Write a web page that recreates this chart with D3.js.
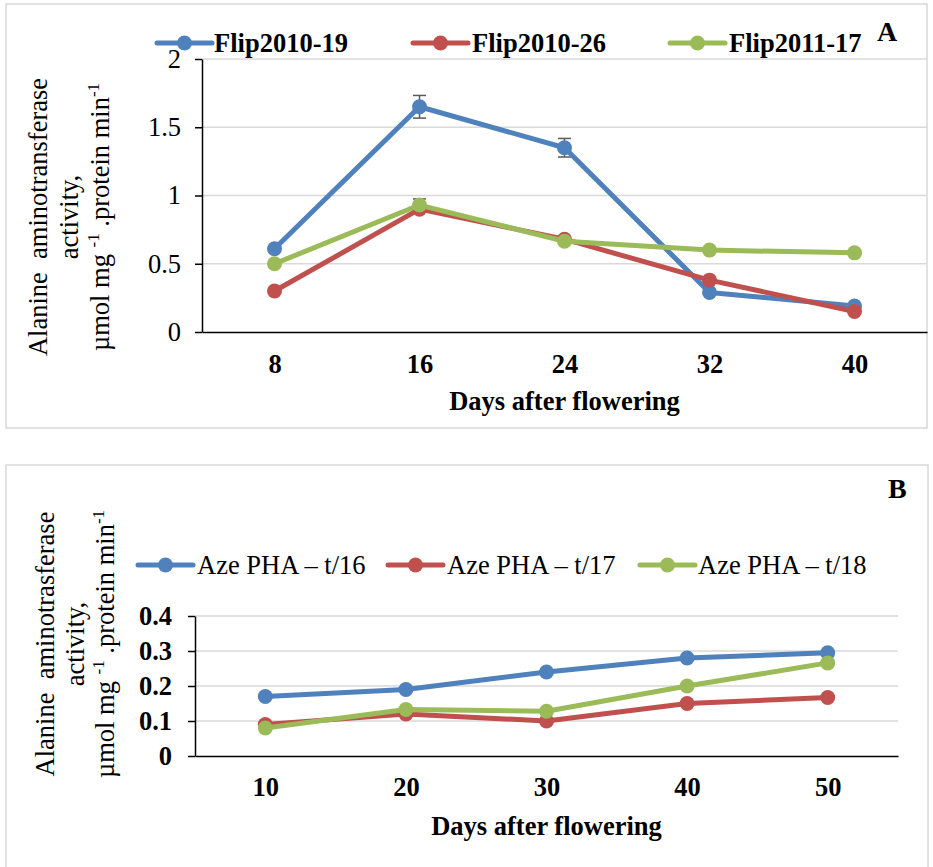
<!DOCTYPE html>
<html>
<head>
<meta charset="utf-8">
<script src="https://cdn.jsdelivr.net/npm/d3@7"></script>
<style>
  body { margin: 0; background: #fff; }
  text { font-family: "Liberation Serif", "Times New Roman", serif; fill: #000; }
</style>
</head>
<body>
<script>
// panel A data
var daysA = [8, 16, 24, 32, 40];
var flip201019 = [0.61, 1.65, 1.35, 0.29, 0.19];
var flip201026 = [0.30, 0.90, 0.68, 0.38, 0.15];
var flip201117 = [0.50, 0.93, 0.665, 0.60, 0.58];
var errFlip201019 = [0, 0.083, 0.068, 0, 0];
var errFlip201117 = [0, 0.045, 0, 0, 0];
var namesA = ["Flip2010-19", "Flip2010-26", "Flip2011-17"];
var yTicksA = [0, 0.5, 1, 1.5, 2];

// panel B data
var daysB = [10, 20, 30, 40, 50];
var aze16 = [0.17, 0.19, 0.24, 0.28, 0.295];
var aze17 = [0.09, 0.12, 0.10, 0.15, 0.167];
var aze18 = [0.08, 0.133, 0.128, 0.20, 0.266];
var namesB = ["Aze PHA \u2013 t/16", "Aze PHA \u2013 t/17", "Aze PHA \u2013 t/18"];
var yTicksB = [0, 0.1, 0.2, 0.3, 0.4];

var colors = ["#4F81BD", "#C0504D", "#9BBB59"];
var fs = 26.5;

var svg = d3.select("body").append("svg")
    .attr("width", 933)
    .attr("height", 867);

// panel frames
svg.append("rect").attr("x", 6).attr("y", 4).attr("width", 921).attr("height", 424)
    .attr("fill", "none").attr("stroke", "#d9d9d9").attr("stroke-width", 1.5);
svg.append("rect").attr("x", 6).attr("y", 465).attr("width", 922).attr("height", 420)
    .attr("fill", "none").attr("stroke", "#d9d9d9").attr("stroke-width", 1.5);

function drawPanel(p) {
    var g = svg.append("g");
    var x = d3.scalePoint().domain(p.days).range([p.left, p.right]).padding(0.5);
    var y = d3.scaleLinear().domain([0, p.yTicks[p.yTicks.length - 1]]).range([p.bottom, p.top]);

    // gridlines
    g.selectAll(".grid").data(p.yTicks.slice(1)).enter().append("line")
        .attr("x1", p.left).attr("x2", p.right)
        .attr("y1", function(d) { return y(d); })
        .attr("y2", function(d) { return y(d); })
        .attr("stroke", "#d9d9d9").attr("stroke-width", 1.5);

    var yAxis = g.append("g")
        .attr("transform", "translate(" + p.left + ",0)")
        .call(d3.axisLeft(y).tickValues(p.yTicks).tickSize(7).tickSizeOuter(0)
            .tickPadding(p.yPad).tickFormat(function(d) { return String(d); }));
    yAxis.selectAll("text").style("font-size", fs + "px")
        .style("font-weight", p.yBold ? "bold" : "normal")
        .style("font-family", "'Liberation Serif', 'Times New Roman', serif");

    var xAxis = g.append("g")
        .attr("transform", "translate(0," + p.bottom + ")")
        .call(d3.axisBottom(x).tickSize(0).tickSizeOuter(0));
    xAxis.selectAll("text").attr("y", p.xLabelOff).attr("dy", 0)
        .style("font-size", fs + "px").style("font-weight", "bold")
        .style("font-family", "'Liberation Serif', 'Times New Roman', serif");
    g.selectAll(".domain, .tick line").attr("stroke", "#000").attr("stroke-width", 1.5);

    // x title
    g.append("text")
        .attr("x", (p.left + p.right) / 2).attr("y", p.xTitleY)
        .attr("text-anchor", "middle")
        .style("font-size", fs + "px").style("font-weight", "bold")
        .text("Days after flowering");

    // y title, three lines
    var t = g.append("g").attr("transform", "rotate(-90)");
    t.append("text").attr("x", -p.titleMid).attr("y", p.titleX[0])
        .attr("text-anchor", "middle").style("font-size", fs + "px")
        .attr("xml:space", "preserve").text(p.title1);
    t.append("text").attr("x", -p.titleMid).attr("y", p.titleX[1])
        .attr("text-anchor", "middle").style("font-size", fs + "px")
        .text("activity,");
    var l3 = t.append("text").attr("x", -p.titleMid).attr("y", p.titleX[2])
        .attr("text-anchor", "middle").style("font-size", fs + "px")
        .attr("xml:space", "preserve");
    l3.append("tspan").text("\u00b5mol mg ");
    l3.append("tspan").attr("dy", -10).style("font-size", "17px").text("-1");
    l3.append("tspan").attr("dy", 10).text(" .protein min");
    l3.append("tspan").attr("dy", -10).style("font-size", "17px").text("-1");

    // error bars
    p.errs.forEach(function(e) {
        e.err.forEach(function(v, i) {
            if (!v) return;
            var cx = x(p.days[i]);
            var vals = e.vals;
            g.append("line").attr("x1", cx).attr("x2", cx)
                .attr("y1", y(vals[i] - v)).attr("y2", y(vals[i] + v))
                .attr("stroke", "#595959").attr("stroke-width", 1.5);
            [vals[i] - v, vals[i] + v].forEach(function(w) {
                g.append("line").attr("x1", cx - 6.5).attr("x2", cx + 6.5)
                    .attr("y1", y(w)).attr("y2", y(w))
                    .attr("stroke", "#595959").attr("stroke-width", 1.5);
            });
        });
    });

    var line = d3.line()
        .x(function(d, i) { return x(p.days[i]); })
        .y(function(d) { return y(d); });

    p.series.forEach(function(s, k) {
        g.append("path").datum(s)
            .attr("d", line)
            .attr("fill", "none")
            .attr("stroke", colors[k])
            .attr("stroke-width", 5)
            .attr("stroke-linejoin", "round");
        g.selectAll(".m" + k).data(s).enter().append("circle")
            .attr("cx", function(d, i) { return x(p.days[i]); })
            .attr("cy", function(d) { return y(d); })
            .attr("r", 7.5)
            .attr("fill", colors[k]);
    });

    // legend
    p.legend.forEach(function(L, k) {
        var lg = g.append("g");
        lg.append("line").attr("x1", L[0]).attr("x2", L[0] + 55)
            .attr("y1", p.legendY).attr("y2", p.legendY)
            .attr("stroke", colors[k]).attr("stroke-width", 5).attr("stroke-linecap", "round");
        lg.append("circle").attr("cx", L[0] + 27.5).attr("cy", p.legendY).attr("r", 7.5)
            .attr("fill", colors[k]);
        lg.append("text").attr("x", L[1]).attr("y", p.legendY + 9)
            .style("font-size", fs + "px")
            .style("font-weight", p.legendBold ? "bold" : "normal")
            .text(p.names[k]);
    });

    g.append("text").attr("x", p.tag[0]).attr("y", p.tag[1])
        .style("font-size", "28px").style("font-weight", "bold").text(p.tagText);
}

drawPanel({
    days: daysA, series: [flip201019, flip201026, flip201117], names: namesA,
    yTicks: yTicksA, left: 202, right: 927, top: 59, bottom: 332,
    yPad: 14, yBold: false, xLabelOff: 41, xTitleY: 410,
    titleMid: 217, titleX: [47, 78, 109], title1: "Alanine  aminotransferase",
    errs: [{vals: flip201019, err: errFlip201019}, {vals: flip201117, err: errFlip201117}],
    legendY: 43, legendBold: true, legend: [[157, 214], [413, 472], [670, 729]],
    tag: [877, 41], tagText: "A"
});

drawPanel({
    days: daysB, series: [aze16, aze17, aze18], names: namesB,
    yTicks: yTicksB, left: 195, right: 898, top: 616, bottom: 756,
    yPad: 16, yBold: true, xLabelOff: 40, xTitleY: 835,
    titleMid: 644, titleX: [54, 84, 114], title1: "Alanine  aminotrasferase",
    errs: [],
    legendY: 565, legendBold: false, legend: [[138, 197], [388, 447], [640, 698]],
    tag: [888, 498], tagText: "B"
});
</script>
</body>
</html>
